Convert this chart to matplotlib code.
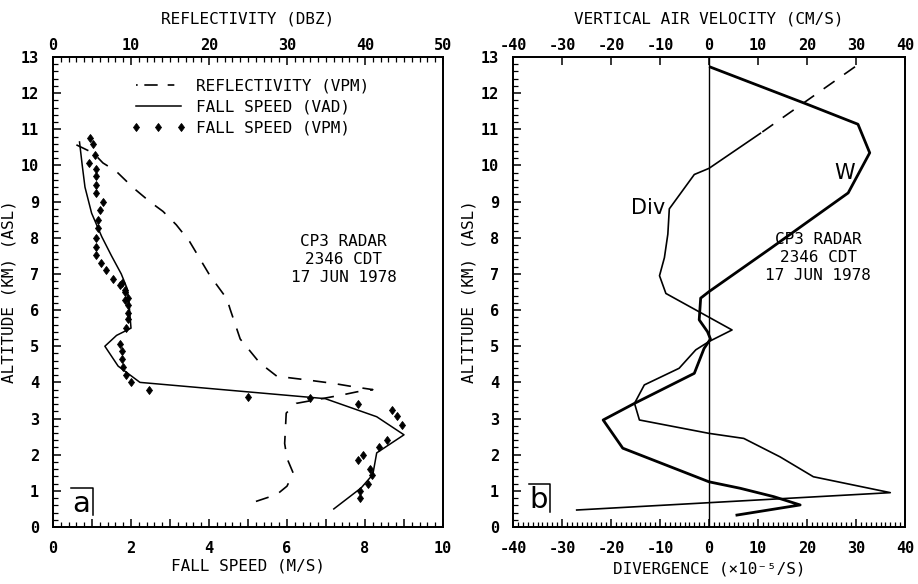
import numpy as np
import matplotlib
matplotlib.use("Agg")
import matplotlib.pyplot as plt
from matplotlib.ticker import MultipleLocator, FuncFormatter
from matplotlib.lines import Line2D

plt.rcParams['font.family'] = ['DejaVu Sans Mono', 'DejaVu Sans']
plt.rcParams['axes.unicode_minus'] = False

# ---- panel a: reflectivity (dBZ) and fall speeds (m/s) vs altitude (km) ----
refl_dbz = [3.0, 5.2, 6.4, 8.1, 10.3, 12.4, 14.1, 15.8, 17.5, 18.8, 20.1, 22.3, 22.7,
            24.0, 26.5, 28.7, 32.5, 36.0, 38.5, 41.0, 39.0, 37.0, 31.2, 29.9, 29.8,
            29.7, 30.0, 30.8, 30.0, 28.7, 24.8]
refl_alt = [10.57, 10.34, 10.07, 9.84, 9.38, 9.0, 8.73, 8.36, 7.9, 7.43, 6.96, 6.31, 6.03,
            5.2, 4.54, 4.17, 4.07, 3.97, 3.88, 3.8, 3.74, 3.65, 3.42, 3.15, 2.73,
            2.31, 1.9, 1.49, 1.13, 0.9, 0.62]

vad_fs = [0.68, 0.75, 0.82, 0.99, 1.25, 1.5, 1.75, 1.9, 1.95, 1.97, 2.0, 1.63, 1.33,
          1.67, 2.23, 6.98, 8.3, 9.0, 8.3, 8.2, 7.9, 7.2]
vad_alt = [10.65, 10.0, 9.4, 8.68, 8.03, 7.5, 7.0, 6.6, 6.2, 5.9, 5.5, 5.3, 5.0,
           4.45, 4.0, 3.55, 3.05, 2.55, 2.05, 1.45, 1.08, 0.5]

vpm_fs = [0.94, 1.03, 1.07, 0.92, 1.11, 1.11, 1.1, 1.11, 1.28, 1.2, 1.16, 1.16, 1.09,
          1.11, 1.11, 1.24, 1.37, 1.54, 1.71, 1.84, 1.84, 1.76, 1.84, 1.93, 1.93,
          1.93, 1.93, 1.88, 1.71, 1.78, 1.78, 1.8, 1.88, 1.99, 2.46, 5.0, 6.6,
          7.83, 8.69, 8.82, 8.95, 8.56, 8.35, 7.96, 7.83, 8.13, 8.17, 8.08, 7.86, 7.88]
vpm_alt = [10.77, 10.59, 10.3, 10.07, 9.89, 9.7, 9.47, 9.24, 9.0, 8.78, 8.5, 8.27, 7.99,
           7.75, 7.52, 7.29, 7.1, 6.87, 6.69, 6.5, 6.27, 6.74, 6.56, 6.33, 6.15,
           5.93, 5.75, 5.5, 5.05, 4.87, 4.65, 4.42, 4.2, 4.0, 3.8, 3.6, 3.57,
           3.4, 3.24, 3.06, 2.83, 2.4, 2.22, 2.0, 1.84, 1.6, 1.44, 1.2, 1.0, 0.8]

# ---- panel b: vertical air velocity (cm/s) and divergence (1e-5 /s) ----
w_vel = [0.3, 19.9, 30.4, 32.8, 28.4, 19.3, 12.5, 0.0, -1.7, -2.0, -0.3, 0.3, -1.0,
         -3.0, -15.2, -21.6, -17.6, 0.0, 6.4, 13.2, 18.6, 5.7]
w_alt = [12.72, 11.7, 11.14, 10.35, 9.24, 8.36, 7.7, 6.51, 6.33, 5.73, 5.4, 5.2, 4.94,
         4.25, 3.42, 2.96, 2.18, 1.25, 1.07, 0.84, 0.61, 0.33]

div_top = [29.8, 10.5]          # dashed upper part
div_top_alt = [12.73, 10.89]
div_val = [10.5, 0.0, -3.0, -8.1, -8.4, -9.1, -10.1, -8.8, 4.7, 0.0, -2.7, -6.1,
           -13.2, -15.2, -14.2, 0.0, 7.1, 14.5, 21.3, 37.0, -27.0]
div_alt = [10.89, 9.92, 9.75, 8.8, 8.1, 7.45, 6.95, 6.46, 5.45, 5.13, 4.9, 4.39,
           3.93, 3.42, 2.96, 2.59, 2.45, 1.94, 1.39, 0.95, 0.47]

radar_text = "CP3 RADAR\n2346 CDT\n17 JUN 1978"

fig = plt.figure(figsize=(9.18, 5.84), dpi=100)
ax1 = fig.add_axes([53/918, 1 - 527/584, 390/918, 470/584])
ax2 = fig.add_axes([513/918, 1 - 527/584, 392/918, 470/584])


def even_only(v, pos):
    return "%d" % v if int(round(v)) % 2 == 0 else ""


# panel a
ax1.set_xlim(0, 10)
ax1.set_ylim(0, 13)
ax1t = ax1.twiny()
ax1t.set_xlim(0, 50)

ax1t.plot(refl_dbz, refl_alt, color='black', lw=1.2, dashes=(8, 7))
l_vad, = ax1.plot(vad_fs, vad_alt, color='black', lw=1.1)
l_vpm, = ax1.plot(vpm_fs, vpm_alt, ls='none', marker='d', ms=4.5, mew=0.6,
                  color='black')

leg_refl = Line2D([], [], color='black', lw=1.2, dashes=(1, 4, 8, 6, 4, 4))
ax1.legend([leg_refl, l_vad, l_vpm],
           ["REFLECTIVITY (VPM)", "FALL SPEED (VAD)", "FALL SPEED (VPM)"],
           loc='upper left', bbox_to_anchor=(0.2, 0.955), frameon=False,
           fontsize=11.5, handlelength=3.4, handletextpad=0.7, labelspacing=0.4,
           borderpad=0, borderaxespad=0, numpoints=3)

ax1.text(7.45, 7.4, radar_text, ha='center', va='center', fontsize=11.5,
         linespacing=1.25)

ax1.xaxis.set_major_locator(MultipleLocator(1))
ax1.xaxis.set_minor_locator(MultipleLocator(0.2))
ax1.xaxis.set_major_formatter(FuncFormatter(even_only))
ax1.yaxis.set_major_locator(MultipleLocator(1))
ax1.yaxis.set_minor_locator(MultipleLocator(0.2))
ax1.tick_params(which='both', direction='in', top=False, right=False)
ax1.tick_params(which='major', length=6, width=1.1, pad=10)
ax1.tick_params(which='minor', length=3.5, width=0.9)
ax1t.xaxis.set_major_locator(MultipleLocator(10))
ax1t.xaxis.set_minor_locator(MultipleLocator(1))
ax1t.tick_params(which='both', direction='in')
ax1t.tick_params(which='major', length=6, width=1.1, pad=3)
ax1t.tick_params(which='minor', length=3.5, width=0.9)
for lab in ax1.get_xticklabels() + ax1.get_yticklabels() + ax1t.get_xticklabels():
    lab.set_fontsize(11)
    lab.set_fontweight('bold')

ax1.set_xlabel("FALL SPEED (M/S)", fontsize=11.5, labelpad=2)
ax1.set_ylabel("ALTITUDE (KM) (ASL)", fontsize=11.5, labelpad=3)
ax1t.set_xlabel("REFLECTIVITY (DBZ)", fontsize=11.5, labelpad=10)

ax1.plot([0.047, 0.103, 0.103], [0.082, 0.082, 0.025], color='black', lw=1.1,
         transform=ax1.transAxes)
ax1.text(0.073, 0.05, "a", transform=ax1.transAxes, ha='center', va='center',
         fontsize=21, family='DejaVu Sans')

# panel b
ax2.set_xlim(-40, 40)
ax2.set_ylim(0, 13)
ax2t = ax2.twiny()
ax2t.set_xlim(-40, 40)

ax2.axvline(0, color='black', lw=1.0)
ax2t.plot(w_vel, w_alt, color='black', lw=2.0, zorder=3)
ax2.plot(div_top, div_top_alt, color='black', lw=1.2, dashes=(8, 7))
ax2.plot(div_val, div_alt, color='black', lw=1.2)

ax2.text(22.3, 7.45, radar_text, ha='center', va='center', fontsize=11.5,
         linespacing=1.25, zorder=5,
         bbox=dict(facecolor='white', edgecolor='none', pad=1))
ax2.text(-12.5, 8.82, "Div", ha='center', va='center', fontsize=15,
         family='DejaVu Sans')
ax2.text(27.7, 9.8, "W", ha='center', va='center', fontsize=15,
         family='DejaVu Sans')

ax2.xaxis.set_major_locator(MultipleLocator(10))
ax2.xaxis.set_minor_locator(MultipleLocator(1))
ax2.yaxis.set_major_locator(MultipleLocator(1))
ax2.yaxis.set_minor_locator(MultipleLocator(0.2))
ax2.tick_params(which='both', direction='in', top=False, right=False)
ax2.tick_params(which='major', length=6, width=1.1, pad=10)
ax2.tick_params(which='minor', length=3.5, width=0.9)
ax2t.xaxis.set_major_locator(MultipleLocator(10))
ax2t.tick_params(which='major', direction='in', length=6, width=1.1, pad=3)
for lab in ax2.get_xticklabels() + ax2.get_yticklabels() + ax2t.get_xticklabels():
    lab.set_fontsize(11)
    lab.set_fontweight('bold')

ax2.set_xlabel("DIVERGENCE (\u00d710\u207b\u2075/S)", fontsize=11.5, labelpad=4)
ax2.set_ylabel("ALTITUDE (KM) (ASL)", fontsize=11.5, labelpad=3)
ax2t.set_xlabel("VERTICAL AIR VELOCITY (CM/S)", fontsize=11.5, labelpad=10)

ax2.plot([0.04, 0.095, 0.095], [0.092, 0.092, 0.032], color='black', lw=1.1,
         transform=ax2.transAxes)
ax2.text(0.065, 0.058, "b", transform=ax2.transAxes, ha='center', va='center',
         fontsize=21, family='DejaVu Sans')

for ax in (ax1, ax1t, ax2, ax2t):
    for s in ax.spines.values():
        s.set_linewidth(1.3)

fig.savefig("out.png", dpi=100)
